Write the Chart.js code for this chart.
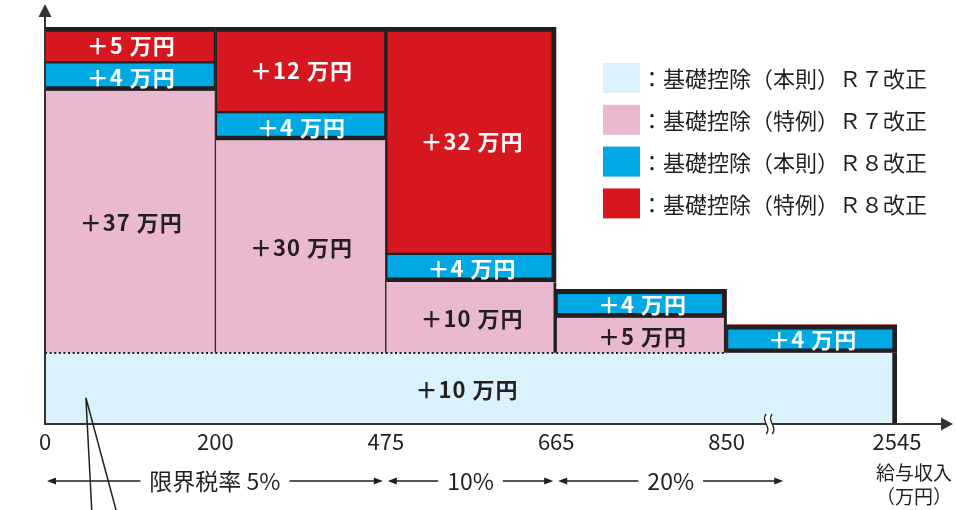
<!DOCTYPE html>
<html>
<head>
<meta charset="utf-8">
<script src="https://cdn.jsdelivr.net/npm/chart.js@4.4.1/dist/chart.umd.min.js"></script>
<style>
  body { margin: 0; background: #fff; }
  #wrap { width: 956px; height: 510px; position: relative; }
</style>
</head>
<body>
<div id="wrap"><canvas id="deductionChart"></canvas></div>
<script>
// income bands (万円) and the boundary labels under the axis
var bands = ['0-200', '200-475', '475-665', '665-850', '850-2545'];
var boundaryLabels = ['0', '200', '475', '665', '850', '2545'];

// deduction increases (万円)
var baseR7 = [10, 10, 10, 10, 10];    // 基礎控除（本則）R7
var specialR7 = [37, 30, 10, 5, 0];   // 基礎控除（特例）R7
var baseR8 = [4, 4, 4, 4, 4];         // 基礎控除（本則）R8
var specialR8 = [5, 12, 32, 0, 0];    // 基礎控除（特例）R8

var legendLabels = [
  '：基礎控除（本則）Ｒ７改正',
  '：基礎控除（特例）Ｒ７改正',
  '：基礎控除（本則）Ｒ８改正',
  '：基礎控除（特例）Ｒ８改正'
];

// marginal tax rate ranges, in boundary-axis units
var rateLabels = ['限界税率 5%', '10%', '20%'];
var rateFrom = [0, 2, 3];
var rateTo = [2, 3, 4.35];

var ink = '#231f20';
var FONT = '"Noto Sans CJK JP", "Noto Sans", sans-serif';
var colors = ['#dbf1fb', '#eab9cf', '#00a9e3', '#d7171f'];
var labelColors = [ink, ink, '#ffffff', '#ffffff'];

var series = [baseR7, specialR7, baseR8, specialR8];
var n = bands.length;
// running stack tops
var tops = [];
series.forEach(function (s, k) {
  tops.push(s.map(function (v, i) { return v + (k ? tops[k - 1][i] : 0); }));
});
var totals = tops[3];

function isOuterRight(i, k) {
  return i === n - 1 || totals[i + 1] < tops[k][i];
}

function borderFor(k) {
  return function (c) {
    var i = c.dataIndex;
    var v = series[k][i];
    if (!v) return 0;
    var outer = isOuterRight(i, k);
    if (k === 0) return { top: 0, bottom: 0, left: 0, right: outer ? 5 : 0 };
    if (k === 1) return { top: 0, bottom: 0, left: i ? 1 : 0, right: outer ? 3 : 1 };
    if (k === 2) return { top: specialR8[i] ? 1.5 : 5, bottom: 5, left: i ? 2 : 0, right: outer ? 5 : 2 };
    return { top: 5, bottom: 1.5, left: i ? 2 : 0, right: outer ? 5 : 2 };
  };
}

var datasets = series.map(function (s, k) {
  return {
    label: legendLabels[k],
    data: s,
    backgroundColor: colors[k],
    borderColor: ink,
    borderWidth: borderFor(k),
    borderSkipped: false,
    barPercentage: 1,
    categoryPercentage: 1
  };
});

function arrowHead(ctx, x, y, dir, len, half) {
  ctx.beginPath();
  ctx.moveTo(x, y);
  ctx.lineTo(x - dir * len, y - half);
  ctx.lineTo(x - dir * len, y + half);
  ctx.closePath();
  ctx.fill();
}

var decor = {
  id: 'decor',
  afterDatasetsDraw: function (chart) {
    var ctx = chart.ctx, area = chart.chartArea;
    var xt = chart.scales.xt, y = chart.scales.y;
    ctx.save();

    // dotted line between R7 本則 and R7 特例
    ctx.strokeStyle = ink;
    ctx.lineWidth = 2;
    ctx.setLineDash([2, 2.6]);
    chart.getDatasetMeta(0).data.forEach(function (el, i) {
      if (!specialR7[i]) return;
      ctx.beginPath();
      ctx.moveTo(el.x - el.width / 2, el.y);
      ctx.lineTo(el.x + el.width / 2, el.y);
      ctx.stroke();
    });
    ctx.setLineDash([]);

    // segment labels (the R7 本則 band is one continuous strip -> one label)
    ctx.font = 'bold 22px ' + FONT;
    ctx.letterSpacing = '1px';
    ctx.textAlign = 'center';
    ctx.textBaseline = 'middle';
    series.forEach(function (s, k) {
      var els = chart.getDatasetMeta(k).data;
      ctx.fillStyle = labelColors[k];
      if (k === 0) {
        var first = els[0], last = els[els.length - 1];
        var cx = (first.x - first.width / 2 + last.x + last.width / 2) / 2 - 4;
        ctx.fillText('＋' + s[0] + ' 万円', cx, (first.y + first.base) / 2 + 1);
        return;
      }
      els.forEach(function (el, i) {
        if (!s[i]) return;
        ctx.fillText('＋' + s[i] + ' 万円', el.x + 1, (el.y + el.base) / 2 + 1);
      });
    });
    ctx.letterSpacing = '0px';

    // axes with arrows
    ctx.strokeStyle = '#333';
    ctx.fillStyle = '#333';
    ctx.lineWidth = 2;
    ctx.beginPath();
    ctx.moveTo(area.left, area.bottom + 1);
    ctx.lineTo(area.left, 14);
    ctx.moveTo(area.left, area.bottom);
    ctx.lineTo(942, area.bottom);
    ctx.stroke();
    ctx.beginPath();
    ctx.moveTo(area.left, 4);
    ctx.lineTo(area.left - 6.5, 17);
    ctx.lineTo(area.left + 6.5, 17);
    ctx.closePath();
    ctx.fill();
    arrowHead(ctx, 953, area.bottom, 1, 12, 6.5);

    // axis break mark between 850 and 2545
    var bx = xt.getPixelForValue(4.25), by = area.bottom;
    ctx.fillStyle = '#fff';
    ctx.beginPath();
    ctx.moveTo(bx - 3, by - 10);
    ctx.bezierCurveTo(bx - 9, by - 3, bx + 3, by + 3, bx - 3, by + 10);
    ctx.lineTo(bx + 3, by + 10);
    ctx.bezierCurveTo(bx + 9, by + 3, bx - 3, by - 3, bx + 3, by - 10);
    ctx.closePath();
    ctx.fill();
    ctx.strokeStyle = ink;
    ctx.lineWidth = 1.3;
    [-3, 3].forEach(function (d) {
      ctx.beginPath();
      ctx.moveTo(bx + d, by - 10);
      ctx.bezierCurveTo(bx + d - 6, by - 3, bx + d + 6, by + 3, bx + d, by + 10);
      ctx.stroke();
    });

    // marginal tax rate arrows
    var ry = 481;
    ctx.font = '23px ' + FONT;
    ctx.fillStyle = ink;
    ctx.strokeStyle = ink;
    ctx.lineWidth = 1.3;
    rateLabels.forEach(function (t, i) {
      var x1 = xt.getPixelForValue(rateFrom[i]) + 2;
      var x2 = xt.getPixelForValue(rateTo[i]) - 3;
      var cx = (x1 + x2) / 2;
      var w = ctx.measureText(t).width;
      ctx.fillText(t, cx, ry);
      ctx.beginPath();
      ctx.moveTo(x1 + 4, ry);
      ctx.lineTo(cx - w / 2 - 9, ry);
      ctx.moveTo(cx + w / 2 + 9, ry);
      ctx.lineTo(x2 - 4, ry);
      ctx.stroke();
      arrowHead(ctx, x1, ry, -1, 9, 3.5);
      arrowHead(ctx, x2, ry, 1, 9, 3.5);
    });

    // axis title
    ctx.font = '19px ' + FONT;
    ctx.fillText('給与収入', 914, 473);
    ctx.fillText('（万円）', 914, 497);

    // leader lines
    ctx.lineWidth = 1.5;
    var lx = xt.getPixelForValue(0.24), ly = y.getPixelForValue(3.7);
    ctx.beginPath();
    ctx.moveTo(lx, ly);
    ctx.lineTo(xt.getPixelForValue(0.275), chart.height + 2);
    ctx.moveTo(lx, ly);
    ctx.lineTo(xt.getPixelForValue(0.42), chart.height + 2);
    ctx.stroke();

    // legend
    ctx.font = '22px ' + FONT;
    ctx.textAlign = 'left';
    legendLabels.forEach(function (t, k) {
      var ty = 78 + k * 41.8;
      ctx.fillStyle = colors[k];
      ctx.fillRect(603, ty - 15, 37, 30);
      ctx.fillStyle = ink;
      ctx.fillText(t, 641, ty + 1);
    });

    ctx.restore();
  }
};

new Chart(document.getElementById('deductionChart'), {
  type: 'bar',
  data: { labels: bands, datasets: datasets },
  plugins: [decor],
  options: {
    responsive: true,
    maintainAspectRatio: false,
    animation: false,
    events: [],
    layout: { padding: { left: 45, right: 59, top: 27, bottom: 0 } },
    plugins: { legend: { display: false }, tooltip: { enabled: false } },
    scales: {
      x: { stacked: true, display: false },
      xt: {
        type: 'linear',
        position: 'bottom',
        min: 0,
        max: 5,
        offset: false,
        grid: { display: false, drawTicks: false },
        border: { display: false },
        afterFit: function (s) { s.height = 86; },
        ticks: {
          stepSize: 1,
          autoSkip: false,
          maxRotation: 0,
          padding: 4,
          color: ink,
          font: { family: FONT, size: 22 },
          callback: function (v) { return boundaryLabels[v]; }
        }
      },
      y: { stacked: true, display: false, min: 0, max: 56 }
    }
  }
});
</script>
</body>
</html>
